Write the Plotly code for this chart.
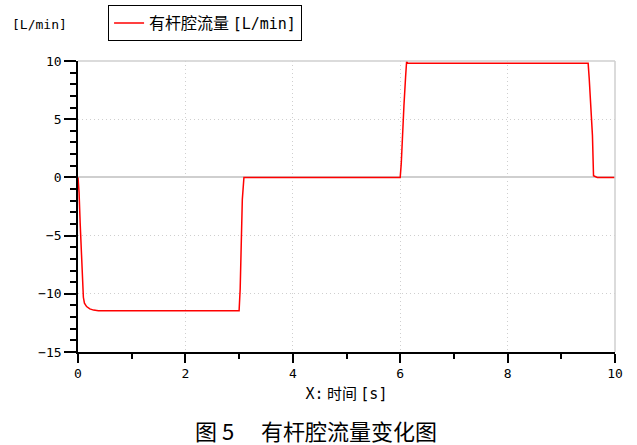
import plotly.graph_objects as go

# Data
time_s = [0, 0.02, 0.04, 0.06, 0.08, 0.10, 0.12, 0.16, 0.22, 0.29, 0.38,
          3.00, 3.02, 3.04, 3.06, 3.09,
          6.00, 6.02, 6.04, 6.07, 6.10, 6.12, 6.14,
          9.50, 9.52, 9.55, 9.58, 9.60, 9.67, 10.0]
flow_lpm = [0, -1.3, -3.9, -6.4, -8.9, -10.3, -10.8, -11.1, -11.3, -11.4, -11.45,
            -11.45, -9.6, -5.8, -1.9, 0,
            0, 1.2, 3.7, 6.2, 8.6, 10.0, 9.8,
            9.8, 8.5, 6.0, 3.6, 0.15, 0, 0]

x_ticks = [0, 2, 4, 6, 8, 10]
y_ticks = [10, 5, 0, -5, -10, -15]

cjk = 'Noto Sans CJK SC'
mono = 'DejaVu Sans Mono'

series_name = '有杆腔流量 <span style="font-family:DejaVu Sans Mono;font-size:15px">[L/min]</span>'
y_unit = '[L/min]'
x_title = ('<span style="font-family:DejaVu Sans Mono">X:</span> 时间 '
           '<span style="font-family:DejaVu Sans Mono">[s]</span>')
caption = '图 5\u3000\u00a0有杆腔流量变化图'

grid_color = '#cfcfcf'

fig = go.Figure()
fig.add_trace(go.Scatter(x=time_s, y=flow_lpm, mode='lines', name=series_name,
                         line=dict(color='#ff0000', width=1.5)))

fig.update_layout(
    width=637, height=445,
    margin=dict(l=78, r=22, t=61, b=93, autoexpand=False),
    paper_bgcolor='white', plot_bgcolor='white',
    showlegend=True,
    legend=dict(x=0.056, y=1.192, xanchor='left', yanchor='top',
                bordercolor='black', borderwidth=1, bgcolor='white',
                font=dict(family=cjk, size=16, color='black'),
                itemwidth=30, tracegroupgap=0),
    font=dict(family=cjk, color='black'),
)

fig.update_xaxes(range=[0, 10], tickvals=x_ticks, ticktext=[str(v) for v in x_ticks],
                 showline=True, linecolor='black', linewidth=1.5,
                 ticks='outside', ticklen=9, tickcolor='black', tickwidth=1.5,
                 minor=dict(dtick=1, ticks='outside', ticklen=5, tickcolor='black', tickwidth=1.5, showgrid=False),
                 showgrid=True, gridcolor=grid_color, griddash='1px,3px', gridwidth=1,
                 zeroline=False,
                 tickfont=dict(family=mono, size=13, color='black'),
                 title=dict(text=x_title, font=dict(family=cjk, size=15, color='black'), standoff=8))
fig.update_yaxes(range=[-15, 10], tickvals=y_ticks, ticktext=[str(v).replace('-', '\u2212') for v in y_ticks],
                 showline=True, linecolor='black', linewidth=1.5,
                 ticks='outside', ticklen=12, tickcolor='black', tickwidth=1.5,
                 minor=dict(dtick=1, ticks='outside', ticklen=6, tickcolor='black', tickwidth=1.5, showgrid=False),
                 showgrid=True, gridcolor=grid_color, griddash='1px,3px', gridwidth=1,
                 zeroline=True, zerolinecolor=grid_color, zerolinewidth=1.5,
                 tickfont=dict(family=mono, size=13, color='black'))

# frame on top and right
fig.add_shape(type='line', xref='paper', yref='paper', x0=0, x1=1, y0=1, y1=1,
              line=dict(color=grid_color, width=1.5))
fig.add_shape(type='line', xref='paper', yref='paper', x0=1, x1=1, y0=0, y1=1,
              line=dict(color=grid_color, width=1.5))

fig.add_annotation(text=y_unit, xref='paper', yref='paper', x=-0.127, y=1.124,
                   xanchor='left', yanchor='middle', showarrow=False,
                   font=dict(family=mono, size=13, color='black'))
fig.add_annotation(text=caption, xref='paper', yref='paper', x=0.443, y=-0.268,
                   xanchor='center', yanchor='middle', showarrow=False,
                   font=dict(family=cjk, size=22, color='black'))

fig.write_html('out.html', config={'displayModeBar': False},
               post_script="document.body.style.margin='0';")
